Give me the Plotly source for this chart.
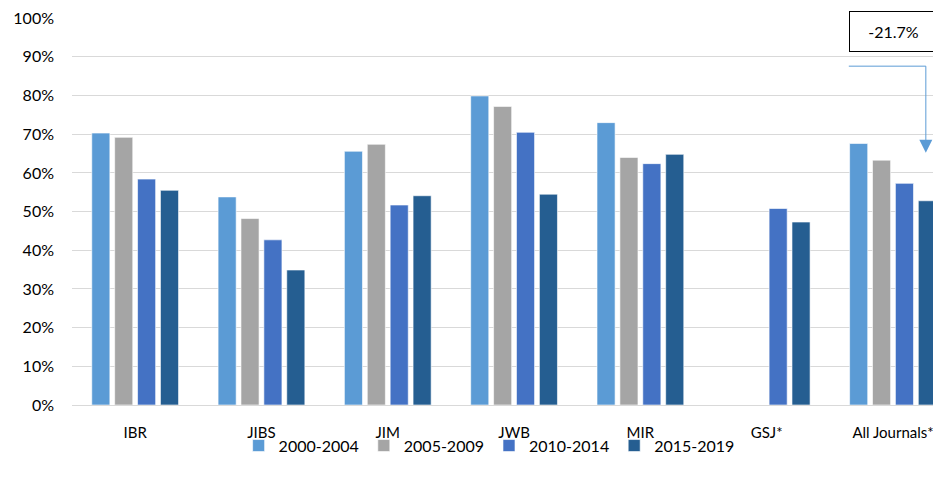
import plotly.graph_objects as go

categories = ["IBR", "JIBS", "JIM", "JWB", "MIR", "GSJ*", "All Journals*"]
series_names = ["2000-2004", "2005-2009", "2010-2014", "2015-2019"]
v2000 = [0.703, 0.538, 0.656, 0.799, 0.730, None, 0.676]
v2005 = [0.692, 0.482, 0.674, 0.772, 0.640, None, 0.633]
v2010 = [0.584, 0.427, 0.517, 0.705, 0.624, 0.508, 0.573]
v2015 = [0.555, 0.349, 0.541, 0.545, 0.648, 0.473, 0.528]
colors = ["#5B9BD5", "#A5A5A5", "#4472C4", "#255E91"]
y_tick_values = [0.0, 0.1, 0.2, 0.3, 0.4, 0.5, 0.6, 0.7, 0.8, 0.9, 1.0]
y_tick_labels = ["0%", "10%", "20%", "30%", "40%", "50%", "60%", "70%", "80%", "90%", "100%"]
change_label = "-21.7%"

FONT = "Lato"

fig = go.Figure()
for name, vals, col in zip(series_names, [v2000, v2005, v2010, v2015], colors):
    fig.add_trace(go.Bar(
        x=categories, y=vals, name=name,
        marker=dict(color=col, line=dict(color="rgba(255,255,255,0.6)", width=1)),
    ))

# the page body adds an 8px margin, so the figure is sized to fit the 941x486 window
fig.update_layout(
    width=933, height=478,
    margin=dict(l=64, r=0, t=10, b=81, autoexpand=False),
    plot_bgcolor="white", paper_bgcolor="white",
    barmode="group", bargap=0.275, bargroupgap=0.21,
    font=dict(family=FONT, size=16, color="#000000"),
    showlegend=True,
    legend=dict(orientation="h", x=0.48, xanchor="center", y=-0.105, yanchor="middle",
                bgcolor="rgba(0,0,0,0)",
                font=dict(family=FONT, size=16), itemwidth=30, traceorder="normal"),
    xaxis=dict(range=[-0.5, 6.38], showgrid=False, showline=True, linecolor="#D9D9D9",
               linewidth=1, ticks="", ticklabelstandoff=14, automargin=False,
               tickfont=dict(family=FONT, size=15)),
    yaxis=dict(range=[0, 1.0005], tickmode="array", tickvals=y_tick_values,
               ticktext=y_tick_labels, showgrid=True, ticklabeloverflow="allow",
               gridcolor="#D9D9D9", gridwidth=1, zeroline=False, showline=False,
               ticks="", ticklabelstandoff=17, automargin=False,
               tickfont=dict(family=FONT, size=16)),
)

# elbow connector with arrow
fig.add_shape(type="line", xref="x", yref="y", x0=5.65, x1=6.26, y0=0.876, y1=0.876,
              line=dict(color="#5B9BD5", width=1))
fig.add_shape(type="line", xref="x", yref="y", x0=6.26, x1=6.26, y0=0.876, y1=0.68,
              line=dict(color="#5B9BD5", width=1))
fig.add_annotation(x=6.26, y=0.652, ax=0, ay=-14, xref="x", yref="y",
                   text="", showarrow=True, arrowhead=2, arrowsize=2.6, arrowwidth=1,
                   arrowcolor="#5B9BD5")
fig.add_annotation(x=6.0, y=0.966, xref="x", yref="y", text=change_label, showarrow=False,
                   font=dict(family=FONT, size=16, color="#000000"),
                   bordercolor="#000000", borderwidth=1, bgcolor="white",
                   width=85, height=37)

fig.write_html("out.html")
